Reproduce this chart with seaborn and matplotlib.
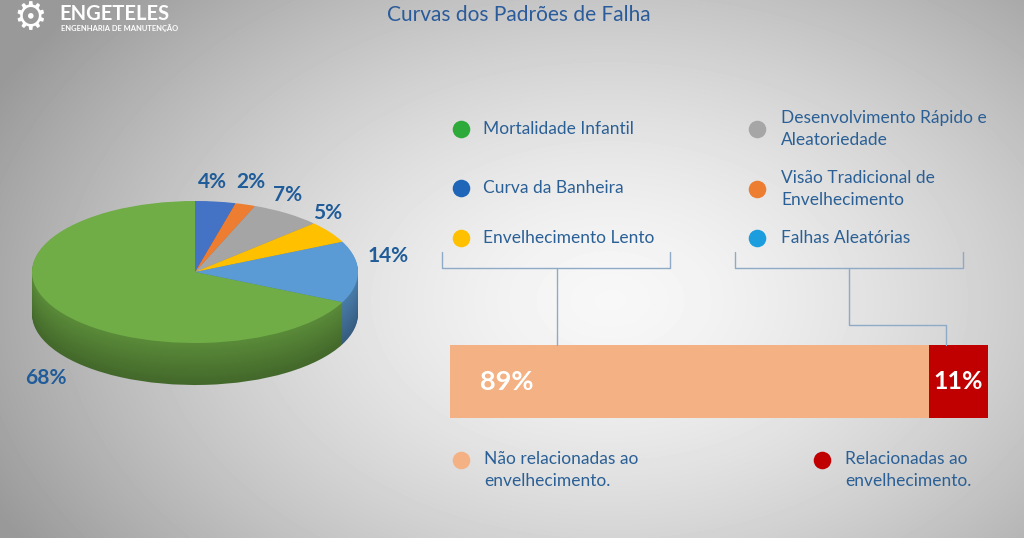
import numpy as np
import seaborn as sns
import matplotlib.pyplot as plt
import matplotlib.colors as mcolors
from matplotlib import patheffects

# Pie data (clockwise from 12 o'clock)
pie_names = ["Curva da Banheira", "Visão Tradicional de Envelhecimento",
             "Desenvolvimento Rápido e Aleatoriedade", "Envelhecimento Lento",
             "Falhas Aleatórias", "Mortalidade Infantil"]
pie_values = [4, 2, 7, 5, 14, 68]
pie_colors = ["#4472C4", "#ED7D31", "#A5A5A5", "#FFC000", "#5B9BD5", "#70AD47"]

# Legend entries (text, dot colour)
legend_left = ["Mortalidade Infantil", "Curva da Banheira", "Envelhecimento Lento"]
legend_left_colors = ["#2DAA3A", "#1F66B8", "#FFC000"]
legend_right = ["Desenvolvimento Rápido e\nAleatoriedade", "Visão Tradicional de\nEnvelhecimento",
                "Falhas Aleatórias"]
legend_right_colors = ["#A6A6A6", "#ED7D31", "#1B9DDE"]

# Stacked bar data
bar_names = ["Não relacionadas ao\nenvelhecimento.", "Relacionadas ao\nenvelhecimento."]
bar_values = [89, 11]
bar_colors = ["#F4B183", "#C00000"]

W, H = 1024, 538
TXT = "#2B6096"
LAB = "#1F5C99"

sns.set_theme(style="white")
plt.rcParams['font.family'] = ['Lato', 'DejaVu Sans']

fig = plt.figure(figsize=(W / 100, H / 100), dpi=100)

# ---- background gradient ----
bg = fig.add_axes([0, 0, 1, 1], zorder=-10)
yy, xx = np.mgrid[0:H, 0:W]
r = np.sqrt(((xx - 610) / 600.0) ** 2 + ((yy - 300) / 400.0) ** 2)
val = np.clip(0.97 - 0.30 * r ** 1.5, 0.6, 1)
bg.imshow(val, cmap="gray", vmin=0, vmax=1, extent=[0, W, H, 0], aspect="auto")
bg.axis("off")


def px_axes(x0, y0, x1, y1, **kw):
    return fig.add_axes([x0 / W, 1 - y1 / H, (x1 - x0) / W, (y1 - y0) / H], **kw)


# ---- 3D-like pie ----
cx, cy, rx, ry, depth_px = 195, 272, 163, 71, 42
pax = px_axes(20, 170, 380, 420)
depth = depth_px / ry
n_layers = 40
for i, dz in enumerate(np.linspace(-depth, -0.01, n_layers)):
    f = 0.6 + 0.2 * i / (n_layers - 1)
    side = [tuple(np.array(mcolors.to_rgb(c)) * f) for c in pie_colors]
    pax.pie(pie_values, colors=side, center=(0, dz), radius=1, startangle=90,
            counterclock=False, wedgeprops=dict(linewidth=0))
pax.pie(pie_values, colors=pie_colors, center=(0, 0), radius=1, startangle=90,
        counterclock=False, wedgeprops=dict(linewidth=0))
pax.set_aspect("auto")
pax.set_xlim(-(cx - 20) / rx, (380 - cx) / rx)
pax.set_ylim(-(420 - cy) / ry, (cy - 170) / ry)
pax.axis("off")

# ---- stacked bar ----
bax = px_axes(450, 345, 988, 418)
cum = np.cumsum(bar_values)
shadow = [patheffects.SimplePatchShadow(offset=(0, -3), alpha=0.25), patheffects.Normal()]
for total, col in zip(cum[::-1], bar_colors[::-1]):
    sns.barplot(x=[total], y=["bar"], color=col, width=1, saturation=1, ax=bax,
                linewidth=0)
for p in bax.patches:
    p.set_path_effects(shadow)
bax.set_xlim(0, cum[-1])
bax.set_ylim(0.5, -0.5)
bax.axis("off")
bax.text(5.5, 0, f"{bar_values[0]}%", color="white", fontsize=19.5, fontweight="bold",
         va="center", ha="left")
bax.text(cum[0] + bar_values[1] / 2, 0, f"{bar_values[1]}%", color="white", fontsize=18,
         fontweight="bold", va="center", ha="center")

# ---- overlay for text, legend dots and brackets ----
ov = fig.add_axes([0, 0, 1, 1], zorder=5)
ov.set_xlim(0, W)
ov.set_ylim(H, 0)
ov.axis("off")
ov.patch.set_alpha(0)

ov.text(519, 15, "Curvas dos Padrões de Falha", color="#2A5B9A", fontsize=15,
        ha="center", va="center")

# logo
ov.text(30, 19, "\u2699", color="white", fontsize=27, ha="center", va="center",
        family="DejaVu Sans")
ov.text(59, 14, "ENGETELES", color="white", fontsize=14.5, fontweight="bold",
        ha="left", va="center")
ov.text(61, 28, "ENGENHARIA DE MANUTENÇÃO", color="white", fontsize=5.4,
        fontweight="bold", ha="left", va="center")

# pie percentage labels
pie_label_pos = [(212, 182), (251, 182), (288, 195), (328, 213), (388, 256), (46, 378)]
for v, (x, y) in zip(pie_values, pie_label_pos):
    ov.text(x, y, f"{v}%", color=LAB, fontsize=15, fontweight="bold",
            ha="center", va="center")

# legend
for (txt, col), y in zip(zip(legend_left, legend_left_colors), [129, 188, 238]):
    ov.scatter([461], [y], s=160, color=col, linewidths=0)
    ov.text(483, y, txt, color=TXT, fontsize=12.5, ha="left", va="center")
for (txt, col), y in zip(zip(legend_right, legend_right_colors), [129, 189, 238]):
    ov.scatter([757], [y], s=160, color=col, linewidths=0)
    ov.text(781, y, txt, color=TXT, fontsize=12.5, ha="left", va="center",
            linespacing=1.5)

# brackets
bc = "#8FAAC6"
ov.plot([442, 442, 670, 670], [252, 268, 268, 252], color=bc, lw=1)
ov.plot([557, 557], [268, 345], color=bc, lw=1)
ov.plot([735, 735, 963, 963], [252, 268, 268, 252], color=bc, lw=1)
ov.plot([849, 849, 946, 946], [268, 325, 325, 345], color=bc, lw=1)

# bar legend
for (txt, col), x in zip(zip(bar_names, bar_colors), [461, 822]):
    ov.scatter([x], [460], s=160, color=col, linewidths=0)
    ov.text(x + 23, 470, txt, color=TXT, fontsize=12.5, ha="left", va="center",
            linespacing=1.5)

fig.savefig("out.png", dpi=100)
